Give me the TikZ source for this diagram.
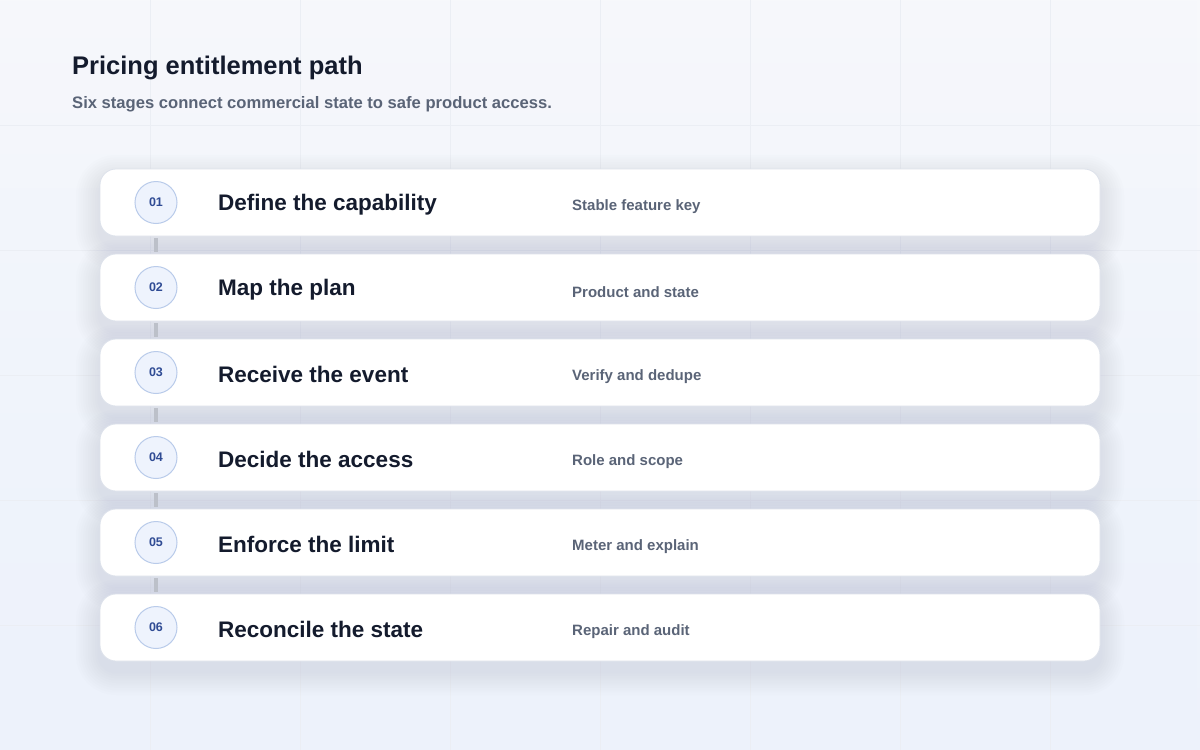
\documentclass[tikz,border=0pt]{standalone}
\usepackage{fontspec}
\setmainfont{Liberation Sans}
\usetikzlibrary{fadings}
\definecolor{bgA}{HTML}{F7F8FB}
\definecolor{bgB}{HTML}{EDF2FB}
\definecolor{gridc}{HTML}{EBEEF4}
\definecolor{titlec}{HTML}{141B2D}
\definecolor{subc}{HTML}{5A6477}
\definecolor{numc}{HTML}{2F4B94}
\definecolor{circfill}{HTML}{EEF3FD}
\definecolor{circline}{HTML}{B9CBEA}
\definecolor{cardline}{HTML}{DDE2EB}
\definecolor{linkc}{HTML}{BCC0C9}
\definecolor{shadowc}{HTML}{98A2B8}
\tikzset{
  card/.style={draw=cardline, line width=0.8pt, fill=white, rounded corners=16pt},
  cardshadow/.style={fill=shadowc, fill opacity=0.019, draw=none},
  numcirc/.style={circle, draw=circline, line width=1pt, fill=circfill, minimum size=42pt, inner sep=0pt,
    font=\fontsize{12.5}{12}\selectfont\bfseries, text=numc},
  stagetitle/.style={anchor=west, font=\fontsize{22.5}{24}\selectfont\bfseries, text=titlec, inner sep=0pt},
  stagenote/.style={anchor=west, font=\fontsize{15}{17}\selectfont\bfseries, text=subc, inner sep=0pt},
  link/.style={draw=linkc, line width=3.5pt},
}
\begin{document}
\begin{tikzpicture}[x=1pt,y=-1pt]
\useasboundingbox (0,0) rectangle (1200,750);
\shade[left color=bgA, right color=bgB, shading angle=0] (0,0) rectangle (1200,750);
\fill[bgB, path fading=north, opacity=0.6] (0,0) rectangle (1200,750);
\foreach \gx in {150,300,...,1050} \draw[gridc, line width=0.8pt] (\gx,0) -- (\gx,750);
\foreach \gy in {125,250,...,625} \draw[gridc, line width=0.8pt] (0,\gy) -- (1200,\gy);
\node[anchor=west, inner sep=0pt, font=\fontsize{25.5}{28}\selectfont\bfseries, text=titlec] (title) at (72,68) {Pricing entitlement path};
\node[anchor=west, inner sep=0pt, font=\fontsize{16.6}{18}\selectfont\bfseries, text=subc] (subtitle) at (72,104) {Six stages connect commercial state to safe product access.};
% shadows
\foreach \i in {1,...,6}{
  \pgfmathsetmacro{\cy}{202.5+85*(\i-1)}
  \foreach \k in {1,...,10}{
    \pgfmathsetmacro{\e}{2.4*\k}
    \fill[cardshadow, rounded corners=16pt+\e pt] (100-\e,\cy-33.5+10-\e) rectangle (1100+\e,\cy+33.5+10+\e);
  }
}
\foreach \i/\t/\s in {1/Define the capability/Stable feature key,
                      2/Map the plan/Product and state,
                      3/Receive the event/Verify and dedupe,
                      4/Decide the access/Role and scope,
                      5/Enforce the limit/Meter and explain,
                      6/Reconcile the state/Repair and audit}{
  \pgfmathsetmacro{\cy}{202.5+85*(\i-1)}
  \node[card, minimum width=1000pt, minimum height=67pt, inner sep=0pt] (card\i) at (600,\cy) {};
  \node[numcirc] (num\i) at (156,\cy) {0\i};
  \node[stagetitle] (title\i) at (218,\cy+2) {\t};
  \node[stagenote] (note\i) at (572,\cy+4.5) {\s};
}
\foreach \i/\j in {1/2,2/3,3/4,4/5,5/6}{
  \draw[link] ([yshift=-2pt]card\i.south -| num\i) -- ([yshift=2pt]card\j.north -| num\j);
}
\end{tikzpicture}
\end{document}
